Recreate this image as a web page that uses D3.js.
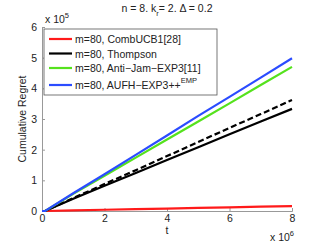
<!DOCTYPE html>
<html>
<head>
<meta charset="utf-8">
<script src="https://cdn.jsdelivr.net/npm/d3@7"></script>
<style>
  body { margin: 0; background: #fff; }
  svg { font-family: "Liberation Sans", Arial, sans-serif; }
</style>
</head>
<body>
<svg id="chart" width="323" height="243"></svg>
<script>
// t in units of 1e6, regret in units of 1e5
let tVals = [0, 0.1, 1, 2, 3, 4, 5, 6, 7, 8];
let combUCB = [0, 0, 0.02, 0.04, 0.06, 0.08, 0.10, 0.12, 0.14, 0.16];
let thompson = [0, 0, 0.40, 0.82, 1.24, 1.66, 2.08, 2.50, 2.92, 3.33];
let thompsonDash = [0, 0, 0.42, 0.88, 1.33, 1.79, 2.25, 2.71, 3.16, 3.62];
let antiJam = [0, 0, 0.56, 1.15, 1.74, 2.33, 2.92, 3.51, 4.11, 4.70];
let aufh = [0, 0, 0.58, 1.20, 1.83, 2.46, 3.10, 3.72, 4.35, 4.98];
let xTicks = [0, 2, 4, 6, 8];
let yTicks = [0, 1, 2, 3, 4, 5, 6];
let legendNames = ['m=80, CombUCB1[28]', 'm=80, Thompson', 'm=80, Anti\u2212Jam\u2212EXP3[11]', 'm=80, AUFH\u2212EXP3++'];

let margin = {top: 27, left: 42};
let width = 250, height = 184;
let svg = d3.select('#chart');
let g = svg.append('g').attr('transform', 'translate(' + margin.left + ',' + margin.top + ')');

let x = d3.scaleLinear().domain([0, 8]).range([0, width]);
let y = d3.scaleLinear().domain([0, 6]).range([height, 0]);

// axes
let xAxis = g.append('g').attr('transform', 'translate(0,' + height + ')')
    .call(d3.axisBottom(x).tickValues(xTicks).tickFormat(d3.format('d')).tickSize(-3).tickPadding(4));
let yAxis = g.append('g')
    .call(d3.axisLeft(y).tickValues(yTicks).tickFormat(d3.format('d')).tickSize(-3).tickPadding(5));
[xAxis, yAxis].forEach(a => {
    a.select('.domain').attr('stroke', '#999');
    a.selectAll('line').attr('stroke', '#999');
    a.selectAll('text').attr('fill', '#222').style('font-size', '10.5px');
});

// series
let series = [
    {vals: combUCB, color: '#ff1a1a', dash: null},
    {vals: thompson, color: '#000', dash: null},
    {vals: thompsonDash, color: '#000', dash: '6,3'},
    {vals: antiJam, color: '#55e21d', dash: null},
    {vals: aufh, color: '#2b4cff', dash: null}
];
let line = d3.line().x((d, i) => x(tVals[i])).y(d => y(d));
series.forEach(s => {
    g.append('path').datum(s.vals)
        .attr('d', line)
        .attr('fill', 'none')
        .attr('stroke', s.color)
        .attr('stroke-width', 2.2)
        .attr('stroke-dasharray', s.dash);
});

// legend
let legendColors = ['#ff1a1a', '#000', '#55e21d', '#2b4cff'];
let lg = svg.append('g').attr('transform', 'translate(44,29)');
lg.append('rect').attr('width', 173).attr('height', 66)
    .attr('fill', '#fff').attr('stroke', '#555').attr('stroke-width', 0.8);
let rowY = [10, 24.5, 39, 56];
legendNames.forEach((name, i) => {
    lg.append('line').attr('x1', 5).attr('x2', 28).attr('y1', rowY[i]).attr('y2', rowY[i])
        .attr('stroke', legendColors[i]).attr('stroke-width', 2.2);
    let t = lg.append('text').attr('x', 31).attr('y', rowY[i] + 4)
        .style('font-size', '10.5px').attr('fill', '#222').text(name);
    if (i === 3) {
        t.append('tspan').attr('dy', -6).style('font-size', '7.5px').text('EMP');
    }
});

// title
let title = svg.append('text').attr('x', 167).attr('y', 12)
    .attr('text-anchor', 'middle').style('font-size', '10.5px').attr('fill', '#222');
title.append('tspan').text('n = 8. k');
title.append('tspan').attr('dy', 4).style('font-size', '7.5px').text('r');
title.append('tspan').attr('dy', -4).text('= 2. \u0394 = 0.2');

// exponent labels
let ex5 = svg.append('text').attr('x', 45).attr('y', 23).style('font-size', '10.5px').attr('fill', '#222');
ex5.append('tspan').text('x 10');
ex5.append('tspan').attr('dy', -5).style('font-size', '7.5px').text('5');
let ex6 = svg.append('text').attr('x', 270).attr('y', 241).style('font-size', '10.5px').attr('fill', '#222');
ex6.append('tspan').text('x 10');
ex6.append('tspan').attr('dy', -5).style('font-size', '7.5px').text('6');

// axis titles
svg.append('text').attr('x', 167).attr('y', 234).attr('text-anchor', 'middle')
    .style('font-size', '10.5px').attr('fill', '#222').text('t');
svg.append('text').attr('transform', 'translate(26,119) rotate(-90)').attr('text-anchor', 'middle')
    .style('font-size', '10.5px').attr('fill', '#222').text('Cumulative Regret');
</script>
</body>
</html>
